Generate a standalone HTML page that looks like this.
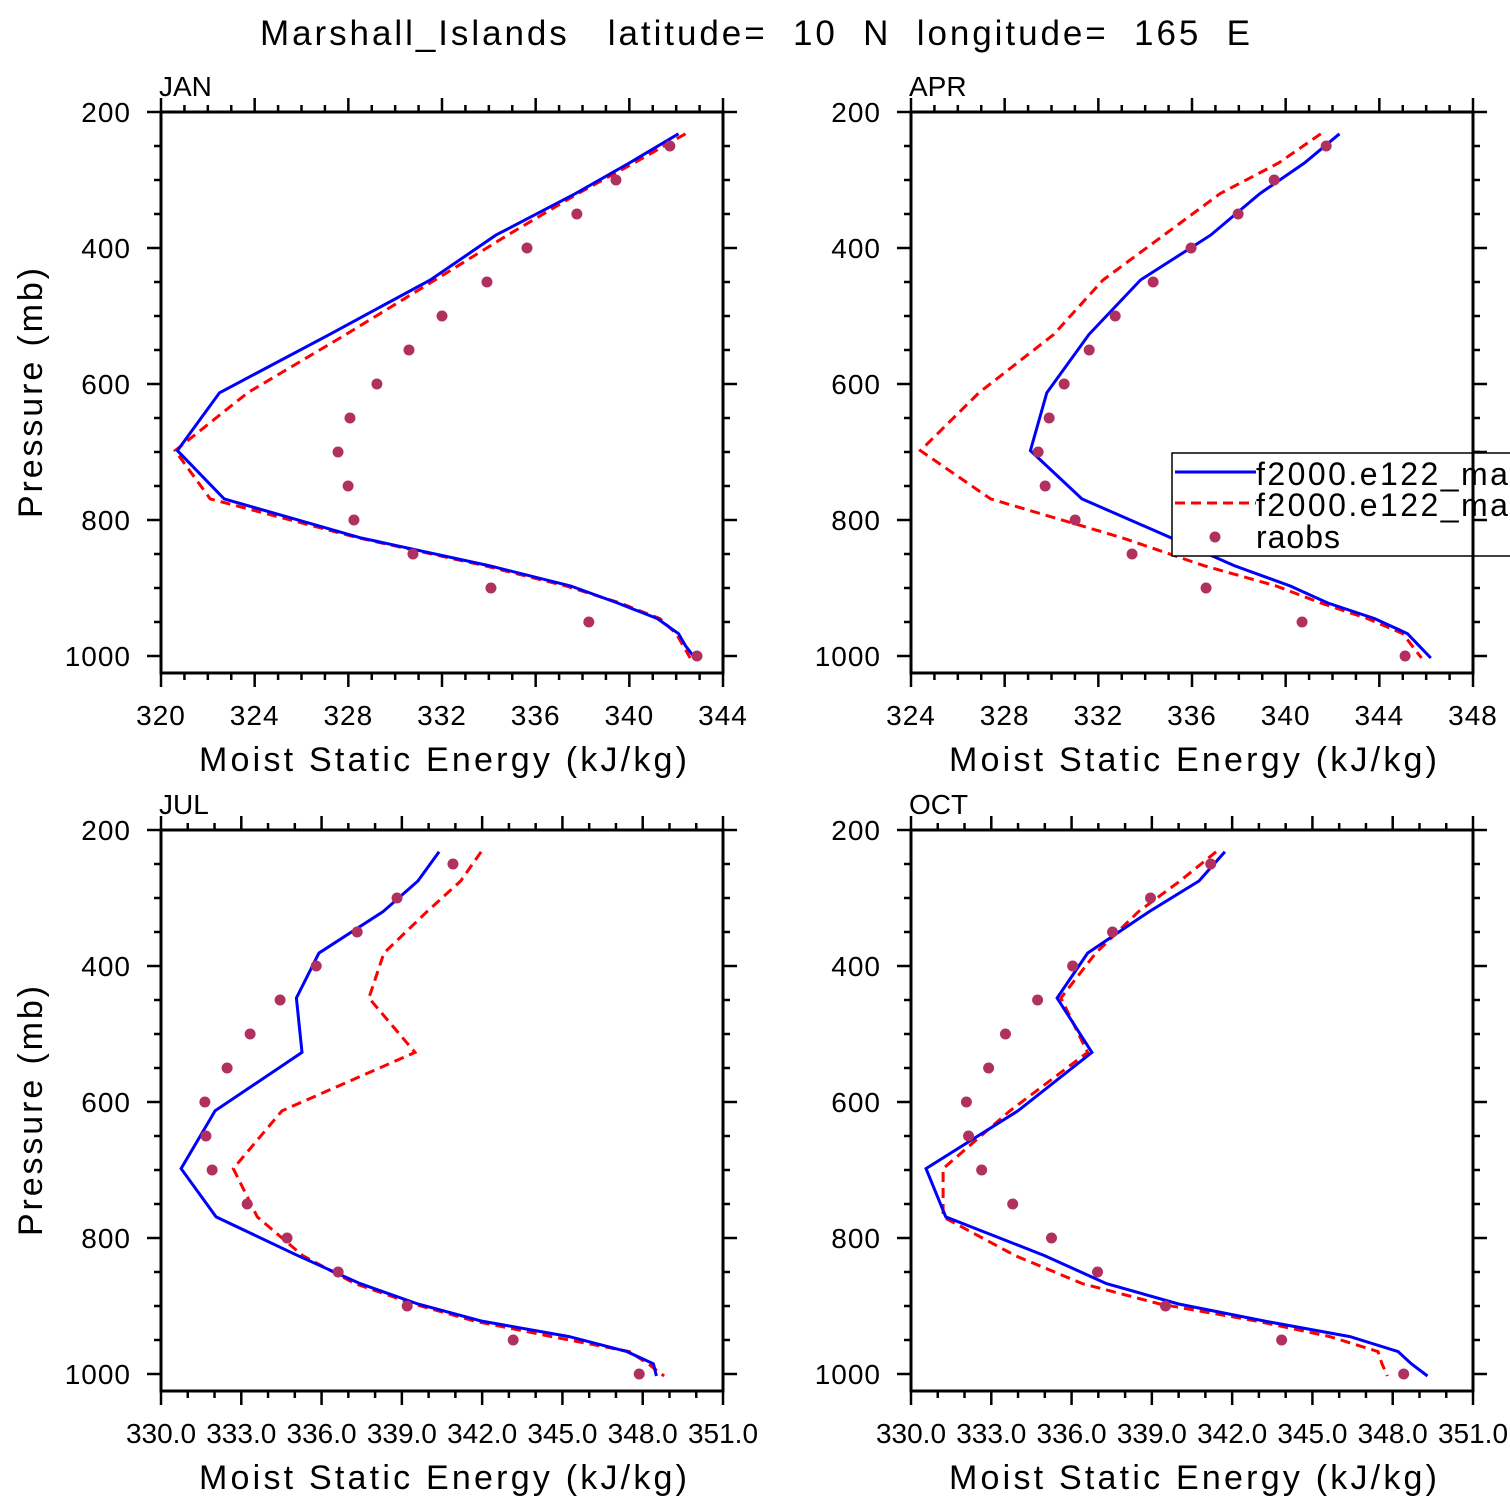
<!DOCTYPE html>
<html><head><meta charset="utf-8"><style>
body{margin:0;background:#fff;overflow:hidden}
svg{display:block;font-family:"Liberation Sans",sans-serif}
</style></head><body>
<svg id="chart" width="1510" height="1510" viewBox="0 0 1510 1510" xmlns="http://www.w3.org/2000/svg">
<text x="260" y="45" font-size="35" fill="#000" textLength="990" lengthAdjust="spacing" style="white-space:pre">Marshall_Islands   latitude=  10  N  longitude=  165  E</text>
</svg>
<script>
const levels=[232,275,320,381,447,527,613,698,769,826,867,897,922,945,967,985,1003];
const raobLevels=[250,300,350,400,450,500,550,600,650,700,750,800,850,900,950,1000];
const janBlue=[342.1,340.0,337.7,334.3,331.5,327.2,322.5,320.7,322.7,328.5,334.0,337.5,339.5,341.2,342.1,342.4,342.8];
const janRed=[342.4,340.2,337.8,334.8,331.7,327.9,323.7,320.6,322.1,328.4,333.8,337.3,339.6,341.3,342.0,342.3,342.6];
const janRaobs=[341.73,339.43,337.76,335.63,333.92,332.00,330.59,329.22,328.07,327.56,327.99,328.24,330.76,334.09,338.27,342.89];
const aprBlue=[342.3,340.8,338.9,336.8,333.8,331.6,329.8,329.1,331.3,335.1,337.8,340.2,341.8,343.8,345.2,345.7,346.2];
const aprRed=[341.5,339.7,337.2,334.8,332.2,330.1,326.9,324.4,327.4,333.0,336.5,339.6,341.5,343.5,345.0,345.4,345.8];
const aprRaobs=[341.73,339.51,337.97,335.96,334.34,332.72,331.61,330.54,329.90,329.43,329.73,331.01,333.44,336.60,340.70,345.10];
const julBlue=[340.39,339.60,338.30,335.90,335.06,335.27,332.02,330.75,332.06,335.12,337.44,339.60,341.96,345.25,347.41,348.40,348.51];
const julRed=[341.96,341.20,339.94,338.33,337.77,339.49,334.52,332.70,333.60,335.30,337.25,339.45,341.70,344.60,347.50,348.20,348.80];
const julRaobs=[340.91,338.82,337.33,335.80,334.45,333.33,332.47,331.64,331.68,331.91,333.22,334.71,336.62,339.20,343.16,347.87];
const octBlue=[341.73,340.76,338.90,336.60,335.46,336.76,334.00,330.56,331.30,335.00,337.30,340.00,343.20,346.40,348.20,348.70,349.30];
const octRed=[341.40,340.05,338.50,336.90,335.60,336.60,333.70,331.20,331.20,333.90,336.40,339.30,342.90,345.65,347.45,347.60,347.80];
const octRaobs=[341.20,338.95,337.53,336.04,334.73,333.53,332.90,332.07,332.15,332.64,333.80,335.25,336.97,339.51,343.85,348.41];
const janTicks=[320,324,328,332,336,340,344];
const aprTicks=[324,328,332,336,340,344,348];
const bottomTicks=[330,333,336,339,342,345,348,351];
const pressureTicks=[200,400,600,800,1000];

const NS="http://www.w3.org/2000/svg";
const svg=document.getElementById('chart');
function mk(tag,attrs,parent){const e=document.createElementNS(NS,tag);for(const k in attrs)e.setAttribute(k,attrs[k]);(parent||svg).appendChild(e);return e;}

const panels=[
 {name:'jan',title:'JAN',x0:161,y0:112,xmin:320,xmax:344,ticks:janTicks,minor:1,dec:0,blue:janBlue,red:janRed,raobs:janRaobs},
 {name:'apr',title:'APR',x0:911,y0:112,xmin:324,xmax:348,ticks:aprTicks,minor:1,dec:0,blue:aprBlue,red:aprRed,raobs:aprRaobs},
 {name:'jul',title:'JUL',x0:161,y0:830,xmin:330,xmax:351,ticks:bottomTicks,minor:1,dec:1,blue:julBlue,red:julRed,raobs:julRaobs},
 {name:'oct',title:'OCT',x0:911,y0:830,xmin:330,xmax:351,ticks:bottomTicks,minor:1,dec:1,blue:octBlue,red:octRed,raobs:octRaobs}
];
const W=562,H=561,pxPerMb=0.68;
panels.forEach(p=>{
 const g=mk('g',{});
 
 
 const xs=v=>p.x0+(v-p.xmin)/(p.xmax-p.xmin)*W;
 const ys=pr=>p.y0+(pr-200)*pxPerMb;
 const x1=p.x0+W,y1=p.y0+H;
 for(let v=p.xmin;v<=p.xmax+1e-6;v+=p.minor){
  const maj=p.ticks.some(t=>Math.abs(t-v)<1e-6);const L=maj?14:7;const x=xs(v);
  mk('line',{x1:x,x2:x,y1:p.y0,y2:p.y0-L,stroke:'#000','stroke-width':2.5},g);
  mk('line',{x1:x,x2:x,y1:y1,y2:y1+L,stroke:'#000','stroke-width':2.5},g);
 }
 for(let pr=200;pr<=1000;pr+=50){
  const maj=pr%200===0;const L=maj?14:7;const y=ys(pr);
  mk('line',{x1:p.x0,x2:p.x0-L,y1:y,y2:y,stroke:'#000','stroke-width':2.5},g);
  mk('line',{x1:x1,x2:x1+L,y1:y,y2:y,stroke:'#000','stroke-width':2.5},g);
 }
 pressureTicks.forEach(pr=>{
  const t=mk('text',{x:p.x0-30,y:ys(pr)+10,'text-anchor':'end','font-size':28,'letter-spacing':1},g);
  
  
  t.textContent=pr;
 });
 p.ticks.forEach(v=>{
  const t=mk('text',{x:xs(v),y:y1+52,'text-anchor':'middle','font-size':28,'letter-spacing':p.dec?0:1},g);
  
  
  t.textContent=v.toFixed(p.dec);
 });
 const ttl=mk('text',{x:p.x0-2,y:p.y0-16,'font-size':28},g);
 
 
 ttl.textContent=p.title;
 const xl=mk('text',{x:p.x0+38,y:y1+98,'font-size':34,textLength:488,lengthAdjust:'spacing'},g);
 
 
 xl.textContent='Moist Static Energy (kJ/kg)';
 if(p.x0<500){
  const yl=mk('text',{x:0,y:0,'font-size':34,textLength:250,lengthAdjust:'spacing',transform:`translate(42,${p.y0+406}) rotate(-90)`},g);
  
  
  yl.textContent='Pressure (mb)';
 }
 const pts=arr=>arr.map((v,i)=>xs(v).toFixed(1)+','+ys(levels[i]).toFixed(1)).join(' ');
 const rl=mk('polyline',{points:pts(p.red),fill:'none',stroke:'#ff0000','stroke-width':3,'stroke-dasharray':'10,6'},g);
 
 
 const bl=mk('polyline',{points:pts(p.blue),fill:'none',stroke:'#0000ff','stroke-width':3},g);
 
 
 p.raobs.forEach((v,i)=>{
  const c=mk('circle',{cx:xs(v),cy:ys(raobLevels[i]),r:5.5,fill:'#b03060'},g);
  
  
 });
 const fr=mk('rect',{x:p.x0,y:p.y0,width:W,height:H,fill:'none',stroke:'#000','stroke-width':3},g);
 
 
});
const lg=mk('g',{});


mk('rect',{x:1172,y:453,width:360,height:103,fill:'#fff',stroke:'#000','stroke-width':1.5},lg);
mk('line',{x1:1175,x2:1256,y1:472,y2:472,stroke:'#0000ff','stroke-width':3},lg);
mk('line',{x1:1175,x2:1256,y1:503,y2:503,stroke:'#ff0000','stroke-width':3,'stroke-dasharray':'10,6'},lg);
mk('circle',{cx:1215,cy:537,r:5.5,fill:'#b03060'},lg);
[['f2000.e122_mar',485,'legend-entry-blue',265],['f2000.e122_mar',516,'legend-entry-red',265],['raobs',548,'legend-entry-raobs',84]].forEach(a=>{
 const t=mk('text',{x:1256,y:a[1],'font-size':32,textLength:a[3],lengthAdjust:'spacing'},lg);
 
 
 t.textContent=a[0];
});
const ax=mk('line',{x1:1473,x2:1473,y1:440,y2:570,stroke:'#000','stroke-width':3});


[452,520].forEach(y=>{const t=mk('line',{x1:1473,x2:1487,y1:y,y2:y,stroke:'#000','stroke-width':2.5});

});
</script>
</body></html>
